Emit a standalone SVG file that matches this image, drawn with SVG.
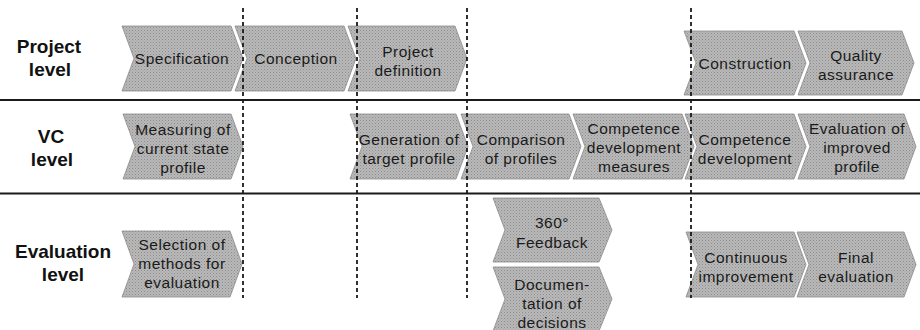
<svg xmlns="http://www.w3.org/2000/svg" width="920" height="330" viewBox="0 0 920 330">
  <defs>
    <!-- fine halftone screen used for the step shapes -->
    <pattern id="screen" width="3" height="3" patternUnits="userSpaceOnUse">
      <rect width="3" height="3" fill="#b9b9b9"/>
      <rect x="0" y="0" width="1" height="1" fill="#8c8c8c"/>
      <rect x="1.5" y="1.5" width="1" height="1" fill="#9a9a9a"/>
    </pattern>
  </defs>
  <style>
    .chev { fill: url(#screen); stroke: #8a8a8a; stroke-width: 0.8; }
    .t { font-family: "Liberation Sans", Arial, sans-serif; font-size: 15.5px; letter-spacing: 0.5px; fill: #1a1a1a; text-anchor: middle; }
    .lane { font-family: "Liberation Sans", Arial, sans-serif; font-size: 19px; font-weight: bold; fill: #111; text-anchor: middle; }
    .sep { stroke: #1a1a1a; stroke-width: 2.2; }
    .phase { stroke: #1a1a1a; stroke-width: 1.8; stroke-dasharray: 4 3; fill: none; }
  </style>
  <rect width="920" height="330" fill="#ffffff"/>

  <!-- lane titles -->
  <g id="lane-project">
    <text class="lane" x="49" y="53">Project</text>
    <text class="lane" x="50" y="76">level</text>
  </g>
  <g id="lane-vc">
    <text class="lane" x="51" y="143">VC</text>
    <text class="lane" x="52" y="166">level</text>
  </g>
  <g id="lane-evaluation">
    <text class="lane" x="63" y="258">Evaluation</text>
    <text class="lane" x="63" y="281">level</text>
  </g>

  <!-- lane separators -->
  <g id="separators">
    <line class="sep" x1="0" y1="100" x2="920" y2="100"/>
    <line class="sep" x1="0" y1="193.5" x2="920" y2="193.5"/>
  </g>

  <!-- project level -->
  <g id="specification">
    <polygon class="chev" points="122,26 231,26 243,58.5 231,91 122,91 134,58.5"/>
    <text class="t" x="182" y="64">Specification</text>
  </g>
  <g id="conception">
    <polygon class="chev" points="235,26 344,26 356,58.5 344,91 235,91 247,58.5"/>
    <text class="t" x="296" y="64">Conception</text>
  </g>
  <g id="project-definition">
    <polygon class="chev" points="348,26 455,26 467,58.5 455,91 348,91 360,58.5"/>
    <text class="t" x="408" y="56.5">Project</text>
    <text class="t" x="408" y="75.5">definition</text>
  </g>
  <g id="construction">
    <polygon class="chev" points="684,31 794,31 806,63 794,95 684,95 696,63"/>
    <text class="t" x="745" y="68.5">Construction</text>
  </g>
  <g id="quality-assurance">
    <polygon class="chev" points="798,31 902,31 914,63 902,95 798,95 810,63"/>
    <text class="t" x="856" y="61">Quality</text>
    <text class="t" x="856" y="80">assurance</text>
  </g>

  <!-- VC level -->
  <g id="measuring-current-state">
    <polygon class="chev" points="123,114 231,114 243,146.5 231,179 123,179 135,146.5"/>
    <text class="t" x="183" y="135">Measuring of</text>
    <text class="t" x="183" y="154">current state</text>
    <text class="t" x="183" y="173">profile</text>
  </g>
  <g id="generation-target-profile">
    <polygon class="chev" points="350,114 456,114 468,146.5 456,179 350,179 362,146.5"/>
    <text class="t" x="409" y="144.5">Generation of</text>
    <text class="t" x="409" y="163.5">target profile</text>
  </g>
  <g id="comparison-of-profiles">
    <polygon class="chev" points="461,114 569,114 581,146.5 569,179 461,179 473,146.5"/>
    <text class="t" x="521" y="144.5">Comparison</text>
    <text class="t" x="521" y="163.5">of profiles</text>
  </g>
  <g id="competence-development-measures">
    <polygon class="chev" points="573,114 682,114 694,146.5 682,179 573,179 585,146.5"/>
    <text class="t" x="634" y="134">Competence</text>
    <text class="t" x="634" y="153">development</text>
    <text class="t" x="634" y="172">measures</text>
  </g>
  <g id="competence-development">
    <polygon class="chev" points="685,114 794,114 806,146.5 794,179 685,179 697,146.5"/>
    <text class="t" x="745" y="144.5">Competence</text>
    <text class="t" x="745" y="163.5">development</text>
  </g>
  <g id="evaluation-improved-profile">
    <polygon class="chev" points="798,114 904,114 916,146.5 904,179 798,179 810,146.5"/>
    <text class="t" x="857" y="134">Evaluation of</text>
    <text class="t" x="857" y="153">improved</text>
    <text class="t" x="857" y="172">profile</text>
  </g>

  <!-- evaluation level -->
  <g id="selection-of-methods">
    <polygon class="chev" points="122,231 230,231 242,264 230,297 122,297 134,264"/>
    <text class="t" x="182" y="250">Selection of</text>
    <text class="t" x="182" y="269">methods for</text>
    <text class="t" x="182" y="288">evaluation</text>
  </g>
  <g id="feedback-360">
    <polygon class="chev" points="493,198 599,198 612,230 599,262 493,262 505,230"/>
    <text class="t" x="552" y="228">360°</text>
    <text class="t" x="552" y="247.5">Feedback</text>
  </g>
  <g id="documentation-of-decisions">
    <polygon class="chev" points="493,267 599,267 612,299 599,331 493,331 505,299"/>
    <text class="t" x="552" y="290">Documen-</text>
    <text class="t" x="552" y="309">tation of</text>
    <text class="t" x="552" y="328">decisions</text>
  </g>
  <g id="continuous-improvement">
    <polygon class="chev" points="686,232 794,232 806,264.5 794,297 686,297 698,264.5"/>
    <text class="t" x="746" y="263">Continuous</text>
    <text class="t" x="746" y="282">improvement</text>
  </g>
  <g id="final-evaluation">
    <polygon class="chev" points="797,232 904,232 916,264.5 904,297 797,297 809,264.5"/>
    <text class="t" x="856" y="263">Final</text>
    <text class="t" x="856" y="282">evaluation</text>
  </g>

  <!-- phase boundaries -->
  <g id="phase-lines">
    <line class="phase" x1="243" y1="8" x2="243" y2="298"/>
    <line class="phase" x1="357" y1="8" x2="357" y2="298"/>
    <line class="phase" x1="467" y1="8" x2="467" y2="298"/>
    <line class="phase" x1="691" y1="8" x2="691" y2="298"/>
  </g>
</svg>
